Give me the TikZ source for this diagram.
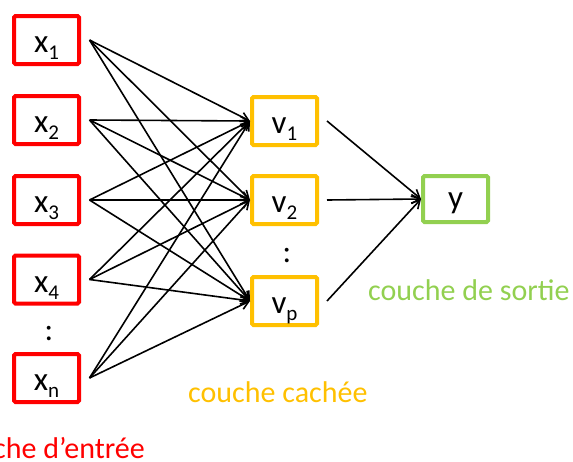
\documentclass[tikz,border=0pt]{standalone}
\usepackage{fontspec}
\setmainfont{Carlito}
\usetikzlibrary{arrows.meta}
\definecolor{inred}{HTML}{FF0000}
\definecolor{hidorange}{HTML}{FFC000}
\definecolor{outgreen}{HTML}{92D050}
\newcommand{\lbl}[2]{#1\raisebox{-7pt}{\fontsize{21}{21}\selectfont #2}}
\begin{document}
\begin{tikzpicture}[x=1pt,y=-1pt,
  box/.style={draw, line width=4pt, rounded corners=1.5pt, minimum width=65pt,
    minimum height=48pt, inner sep=0pt, text height=25pt, text depth=0pt,
    font=\fontsize{33}{33}\selectfont},
  inbox/.style={box, draw=inred},
  hidbox/.style={box, draw=hidorange},
  outbox/.style={box, draw=outgreen, minimum height=46pt, text height=19pt},
  dots/.style={anchor=base, inner sep=0pt, font=\fontsize{32}{32}\selectfont},
  caption/.style={inner sep=0pt, font=\fontsize{30}{30}\selectfont},
  conn/.style={line width=1.6pt, -{Straight Barb[length=8pt,width=9pt]}}
]
\useasboundingbox (0,0) rectangle (573,461);

\node[inbox] (x1) at (46.5,40) {\lbl{x}{1}};
\node[inbox] (x2) at (46.5,120) {\lbl{x}{2}};
\node[inbox] (x3) at (46.5,200) {\lbl{x}{3}};
\node[inbox] (x4) at (46.5,279.5) {\lbl{x}{4}};
\node[inbox] (xn) at (46.5,378) {\lbl{x}{n}};
\node[dots] (dx) at (49,340) {:};

\node[hidbox] (v1) at (284.5,121) {\lbl{v}{1}};
\node[hidbox] (v2) at (284.5,200) {\lbl{v}{2}};
\node[hidbox] (vp) at (284.5,301) {\lbl{v}{p}};
\node[dots] (dv) at (287,262) {:};

\node[outbox] (y) at (455.5,199) {y};

\foreach \i in {x1,x2,x3,x4,xn}
  \foreach \j in {v1,v2,vp}
    \draw[conn] ([xshift=8.5pt]\i.east) -- (\j.west);
\foreach \j in {v1,v2,vp}
  \draw[conn] ([xshift=8pt]\j.east) -- (y.west);

\node[caption, anchor=base west, text=outgreen] (lo) at (368,300) {couche de sortie};
\node[caption, anchor=base west, text=hidorange] (lh) at (188,402) {couche cachée};
\node[caption, anchor=base east, text=inred] (li) at (145,458) {couche d’entrée};
\end{tikzpicture}
\end{document}
